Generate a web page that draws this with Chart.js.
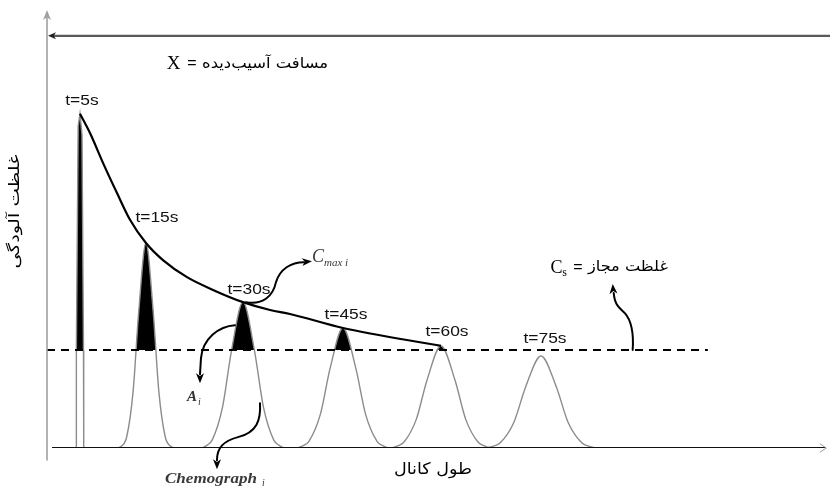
<!DOCTYPE html>
<html><head><meta charset="utf-8">
<script src="https://cdn.jsdelivr.net/npm/chart.js@4.4.1/dist/chart.umd.min.js"></script>
<style>html,body{margin:0;padding:0;background:#fff}#wrap{width:830px;height:494px}</style>
</head><body><div id="wrap"><canvas id="c" width="830" height="494"></canvas></div>
<script>
// ---- data (channel length units 0-100, concentration units 0-100) ----
const timeLabels = ['t=5s','t=15s','t=30s','t=45s','t=60s','t=75s'];
const peakX = [4.21, 12.64, 25.03, 37.80, 50.32, 63.09];
const peakY = [76.3, 46.8, 33.3, 27.4, 23.3, 21.0];
const csValue = 22.4;            // permitted concentration Cs
const csLineX = [0, 84.4];
const distanceY = 94.1;          // level of the "X" distance arrow
const spikeX = [3.72, 3.75, 3.98, 4.21, 4.47, 4.66, 4.69];
const spikeY = [0, 22.4, 73.5, 76.3, 71.5, 22.4, 0];
const chemo15X = [9.06, 9.57, 10.19, 11.00, 11.72, 12.64, 13.56, 14.28, 15.09, 15.71, 16.22];
const chemo15Y = [0, 0.51, 2.62, 13.0, 31.2, 46.8, 31.2, 13.0, 2.62, 0.51, 0];
const chemo30X = [19.80, 20.45, 21.11, 22.41, 23.56, 25.03, 26.50, 27.65, 28.95, 29.61, 30.26];
const chemo30Y = [0, 0.66, 1.86, 9.26, 22.2, 33.3, 22.2, 9.26, 1.86, 0.66, 0];
const chemo45X = [32.00, 32.72, 33.45, 34.90, 36.17, 37.80, 39.43, 40.70, 42.15, 42.88, 43.61];
const chemo45Y = [0, 0.54, 1.53, 7.62, 18.28, 27.4, 18.28, 7.62, 1.53, 0.54, 0];
const chemo60X = [43.98, 44.78, 45.57, 47.15, 48.54, 50.32, 52.10, 53.49, 55.07, 55.86, 56.66];
const chemo60Y = [0, 0.46, 1.30, 6.48, 15.54, 23.3, 15.54, 6.48, 1.30, 0.46, 0];
const chemo75X = [56.14, 57.01, 57.88, 59.62, 61.14, 63.09, 65.04, 66.56, 68.30, 69.17, 70.04];
const chemo75Y = [0, 0.42, 1.18, 5.84, 14.0, 21.0, 14.0, 5.84, 1.18, 0.42, 0];
const envelopeX = [4.21, 5.49, 7.15, 8.94, 10.60, 12.64, 14.81, 17.88, 21.20, 25.03, 28.48, 31.03, 37.80, 50.32];
const envelopeY = [76.3, 71.9, 65.1, 58.2, 52.1, 46.8, 42.9, 39.0, 36.1, 33.3, 31.5, 30.6, 27.4, 23.3];
const baseX = [0.64, 99.4];

// ---- helpers ----
const pts = (xs, ys) => xs.map((x, i) => ({x: x, y: ys[i]}));
const GRAY = '#8c8c8c';
function bell(xs, ys) {
  return {
    data: pts(xs, ys), borderColor: GRAY, borderWidth: 1.4, pointRadius: 0,
    cubicInterpolationMode: 'monotone', order: 2,
    fill: {target: {value: csValue}, above: '#000', below: 'rgba(0,0,0,0)'}
  };
}
function head(ctx, x, y, ang, col, len, w) {
  ctx.save(); ctx.translate(x, y); ctx.rotate(ang); ctx.fillStyle = col;
  ctx.beginPath(); ctx.moveTo(0, 0); ctx.lineTo(-len, -w / 2); ctx.lineTo(-len * 0.72, 0); ctx.lineTo(-len, w / 2);
  ctx.closePath(); ctx.fill(); ctx.restore();
}
function txt(ctx, s, x, y, font, color, align, w, sx) {
  ctx.save(); ctx.font = font; ctx.fillStyle = color; ctx.textBaseline = 'middle'; ctx.textAlign = align || 'center';
  const m = ctx.measureText(s).width; const k = w ? w / m : (sx || 1);
  ctx.translate(x, y); ctx.scale(k, 1); ctx.fillText(s, 0, 0); ctx.restore();
}

const labelOffsets = [[2, -13], [11, -25], [6, -12], [3, -13], [6, -14], [4, -17]];

const annot = {
  id: 'annot',
  afterDatasetsDraw(chart) {
    const ctx = chart.ctx, xs = chart.scales.x, ys = chart.scales.y, a = chart.chartArea;
    const X = v => xs.getPixelForValue(v), Y = v => ys.getPixelForValue(v);
    ctx.save();
    ctx.lineCap = 'round'; ctx.lineJoin = 'round';
    // vertical axis
    ctx.strokeStyle = '#a0a0a0'; ctx.lineWidth = 1.6;
    ctx.beginPath(); ctx.moveTo(X(0), a.top + 4); ctx.lineTo(X(0), Y(0) + 12); ctx.stroke();
    head(ctx, X(0), a.top, -Math.PI / 2, '#a0a0a0', 10, 8);
    // distance arrow on top
    ctx.strokeStyle = '#5a5a5a'; ctx.lineWidth = 2.2;
    ctx.beginPath(); ctx.moveTo(X(0) + 5, Y(distanceY)); ctx.lineTo(a.right, Y(distanceY)); ctx.stroke();
    head(ctx, X(0) + 1, Y(distanceY), Math.PI, '#222', 8, 7);
    // baseline arrow tip
    ctx.strokeStyle = '#9a9a9a'; ctx.lineWidth = 1;
    ctx.beginPath(); ctx.moveTo(X(baseX[1]) - 5, Y(0) - 4); ctx.lineTo(X(baseX[1]) + 1, Y(0)); ctx.lineTo(X(baseX[1]) - 5, Y(0) + 4); ctx.stroke();

    // time labels
    for (let i = 0; i < timeLabels.length; i++) {
      txt(ctx, timeLabels[i], X(peakX[i]) + labelOffsets[i][0], Y(peakY[i]) + labelOffsets[i][1],
          '14.5px "Liberation Sans", Arial, sans-serif', '#111', 'center', null, 1.2);
    }

    // curly arrows
    ctx.strokeStyle = '#000'; ctx.lineWidth = 2;
    let px = X(peakX[2]), py = Y(peakY[2]);
    // C_max arrow
    ctx.beginPath(); ctx.moveTo(px + 3, py);
    ctx.bezierCurveTo(px + 20, py + 3, px + 30, py - 6, px + 33, py - 20);
    ctx.bezierCurveTo(px + 37, py - 33, px + 48, py - 40, px + 61, py - 40); ctx.stroke();
    head(ctx, px + 69, py - 41, -0.1, '#000', 10, 8);
    // A_i arrow
    ctx.beginPath(); ctx.moveTo(px - 8, py + 23);
    ctx.bezierCurveTo(px - 24, py + 24, px - 40, py + 36, px - 42, py + 56);
    ctx.lineTo(px - 43, py + 72); ctx.stroke();
    head(ctx, px - 43, py + 81, Math.PI / 2, '#000', 10, 8);
    // Chemograph arrow
    ctx.beginPath(); ctx.moveTo(px + 17, py + 101);
    ctx.bezierCurveTo(px + 18, py + 118, px + 14, py + 130, px - 5, py + 135);
    ctx.bezierCurveTo(px - 20, py + 139, px - 26, py + 146, px - 26, py + 158); ctx.stroke();
    head(ctx, px - 26, py + 167, Math.PI / 2, '#000', 10, 8);
    // Cs arrow
    const cx = X(74.8), cy = Y(csValue);
    ctx.beginPath(); ctx.moveTo(cx, cy);
    ctx.bezierCurveTo(cx + 1, cy - 15, cx, cy - 28, cx - 8, cy - 37);
    ctx.bezierCurveTo(cx - 16, cy - 44, cx - 18, cy - 47, cx - 19, cy - 57); ctx.stroke();
    head(ctx, cx - 20, cy - 66, -Math.PI / 2 - 0.08, '#000', 10, 8);

    // math labels
    const ital = (s) => 'italic ' + s + 'px "Liberation Serif", "DejaVu Serif", serif';
    txt(ctx, 'C', px + 69, py - 45, ital(18), '#3a3a3a', 'left');
    txt(ctx, 'max i', px + 81, py - 39, ital(11), '#3a3a3a', 'left');
    txt(ctx, 'A', px - 56, py + 95, 'bold ' + ital(15), '#333', 'left');
    txt(ctx, 'i', px - 45, py + 100, ital(10), '#333', 'left');
    txt(ctx, 'Chemograph', px - 78, py + 177, 'bold ' + ital(14), '#3a3a3a', 'left', 92);
    txt(ctx, 'i', px + 19, py + 181, ital(10), '#3a3a3a', 'left');

    // Cs label
    const sy = Y(csValue) - 82;
    txt(ctx, 'C', X(64.3), sy, '18px "Liberation Serif", serif', '#000', 'left');
    txt(ctx, 's', X(65.8), sy + 5, '12px "Liberation Serif", serif', '#000', 'left');
    txt(ctx, '=', X(67.8), sy, '16px "Liberation Sans", sans-serif', '#000', 'center');
    txt(ctx, 'غلظت مجاز', X(79.3), sy - 1, '15px "DejaVu Sans", sans-serif', '#000', 'right', 80);

    // title: X = distance
    const ty = Y(distanceY) + 28;
    txt(ctx, 'X', X(15.3), ty, '19px "Liberation Serif", serif', '#000', 'left');
    txt(ctx, '=', X(18.5), ty, '16px "Liberation Sans", sans-serif', '#000', 'center');
    txt(ctx, 'مسافت آسیب\u200cدیده', X(35.9), ty, '15px "DejaVu Sans", sans-serif', '#000', 'right', 126);

    // axis titles
    txt(ctx, 'طول کانال', X(49.3), Y(0) + 22, '16px "DejaVu Sans", sans-serif', '#000', 'center', 78);
    ctx.save(); ctx.translate(15, Y(54)); ctx.rotate(-Math.PI / 2);
    txt(ctx, 'غلظت آلودگی', 0, 0, '15px "DejaVu Sans", sans-serif', '#000', 'center', 114);
    ctx.restore();
    ctx.restore();
  }
};

const datasets = [
  {data: pts(baseX, [0, 0]), borderColor: '#111', borderWidth: 2.2, pointRadius: 0, order: 0, fill: false},
  {data: pts(envelopeX, envelopeY), borderColor: '#000', borderWidth: 2.2, pointRadius: 0, order: 0,
   cubicInterpolationMode: 'monotone', fill: false},
  {data: pts(csLineX, [csValue, csValue]), borderColor: '#000', borderWidth: 2, borderDash: [8, 6],
   pointRadius: 0, order: 1, fill: false},
  {data: pts(spikeX, spikeY), borderColor: GRAY, borderWidth: 1.4, pointRadius: 0, tension: 0, order: 2,
   fill: {target: {value: csValue}, above: '#000', below: 'rgba(0,0,0,0)'}},
  bell(chemo15X, chemo15Y), bell(chemo30X, chemo30Y), bell(chemo45X, chemo45Y),
  bell(chemo60X, chemo60Y), bell(chemo75X, chemo75Y)
];

new Chart(document.getElementById('c'), {
  type: 'line',
  data: {datasets: datasets},
  options: {
    responsive: false, animation: false, devicePixelRatio: 1,
    layout: {padding: {left: 47, right: 0, top: 10, bottom: 46}},
    scales: {x: {type: 'linear', min: 0, max: 100, display: false},
             y: {type: 'linear', min: 0, max: 100, display: false}},
    plugins: {legend: {display: false}, tooltip: {enabled: false}},
    elements: {point: {radius: 0}}
  },
  plugins: [annot]
});
</script></body></html>
